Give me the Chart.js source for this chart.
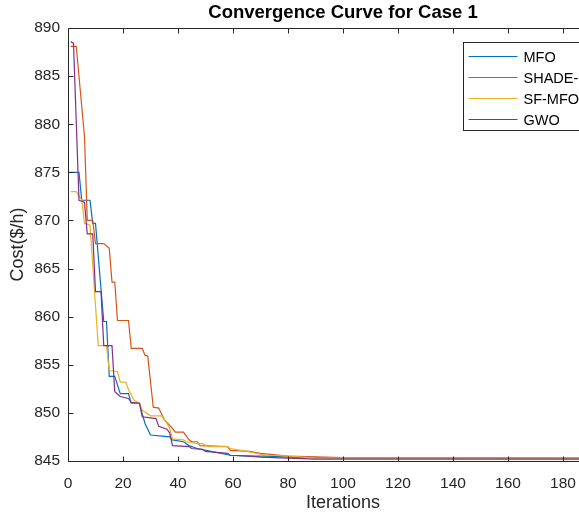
<!DOCTYPE html>
<html>
<head>
<meta charset="utf-8">
<script src="https://cdn.jsdelivr.net/npm/chart.js@4"></script>
<style>
  html, body { margin: 0; padding: 0; background: #fff; overflow: hidden; }
  #wrap { width: 684px; height: 518px; }
</style>
</head>
<body>
<div id="wrap"><canvas id="chart" width="684" height="518"></canvas></div>
<script>
// values (iteration, cost in $/h)
const seriesNames = ['MFO', 'SHADE-MFO', 'SF-MFO', 'GWO'];
const seriesColors = ['#0072BD', '#D95319', '#EDB120', '#7E2F8E'];

const mfoIter = [0, 4, 5, 8, 9, 10, 13, 14, 15, 17, 19, 22, 23, 26, 27, 28, 30, 37, 38, 42, 44, 47, 52, 59, 66, 72, 81, 100, 200];
const mfoCost = [875.0, 875.0, 872.1, 872.1, 869.7, 869.7, 859.5, 859.5, 853.8, 853.8, 852.0, 852.0, 851.0, 851.0, 849.9, 848.9, 847.7, 847.5, 847.2, 847.0, 846.6, 846.3, 846.0, 845.6, 845.5, 845.5, 845.4, 845.3, 845.3];

const shadeIter = [1, 3, 6, 7, 9, 10, 13, 15, 16, 17, 18, 22, 23, 27, 28, 29, 31, 33, 35, 38, 39, 42, 44, 45, 47, 48, 58, 59, 66, 70, 80, 100, 200];
const shadeCost = [888.1, 888.1, 878.7, 870.0, 870.0, 867.6, 867.6, 867.1, 863.6, 863.6, 859.6, 859.6, 856.7, 856.7, 856.0, 855.9, 850.6, 850.5, 849.3, 848.4, 848.0, 848.0, 847.2, 847.0, 847.0, 846.6, 846.5, 846.1, 846.0, 845.8, 845.5, 845.35, 845.3];

const sfIter = [1, 3, 5, 6, 8, 11, 14, 15, 18, 19, 21, 22, 24, 26, 27, 30, 34, 36, 37, 38, 42, 43, 47, 49, 51, 58, 59, 65, 70, 73, 81, 90, 200];
const sfCost = [873.0, 873.0, 872.1, 869.7, 869.5, 857.0, 857.0, 854.4, 854.3, 853.2, 853.2, 852.4, 851.3, 851.0, 850.3, 849.7, 849.7, 848.9, 848.4, 847.3, 847.2, 847.0, 846.8, 846.8, 846.5, 846.5, 846.3, 846.0, 845.7, 845.6, 845.5, 845.3, 845.3];

const gwoIter = [1, 2, 4, 5, 6, 7, 9, 10, 12, 13, 16, 17, 19, 22, 23, 26, 27, 32, 33, 36, 37, 38, 44, 45, 49, 50, 58, 59, 66, 70, 90, 200];
const gwoCost = [888.6, 888.4, 872.1, 872.0, 871.9, 868.6, 868.6, 862.6, 862.6, 857.0, 857.0, 852.2, 851.7, 851.5, 851.1, 851.0, 849.6, 849.4, 848.6, 848.3, 847.9, 846.6, 846.5, 846.3, 846.2, 846.0, 845.8, 845.6, 845.5, 845.4, 845.2, 845.2];

const xTickLabels = [0, 20, 40, 60, 80, 100, 120, 140, 160, 180, 200];
const yTickLabels = [845, 850, 855, 860, 865, 870, 875, 880, 885, 890];

const chartTitle = 'Convergence Curve for Case 1';

const FONT = "'Liberation Sans', Arial, sans-serif";
const INK = '#262626';

function points(xs, ys) {
  return xs.map((x, i) => ({ x: x, y: ys[i] }));
}

const allSeries = [
  points(mfoIter, mfoCost),
  points(shadeIter, shadeCost),
  points(sfIter, sfCost),
  points(gwoIter, gwoCost)
];

// MATLAB-style box, inward ticks, title over the axes and legend
const matlabAxes = {
  id: 'matlabAxes',
  afterDatasetsDraw(chart) {
    const { ctx, chartArea: a, scales } = chart;
    const x = scales.x, y = scales.y;
    ctx.save();
    ctx.strokeStyle = INK;
    ctx.lineWidth = 1;
    ctx.beginPath();
    const L = Math.round(a.left) + 0.5, R = Math.round(a.right) + 0.5;
    const T = Math.round(a.top) + 0.5, B = Math.round(a.bottom) + 0.5;
    ctx.moveTo(L, T); ctx.lineTo(R, T); ctx.lineTo(R, B); ctx.lineTo(L, B); ctx.closePath();
    x.ticks.forEach(t => {
      const px = Math.round(x.getPixelForValue(t.value)) + 0.5;
      ctx.moveTo(px, B); ctx.lineTo(px, B - 5);
      ctx.moveTo(px, T); ctx.lineTo(px, T + 5);
    });
    y.ticks.forEach(t => {
      const py = Math.round(y.getPixelForValue(t.value)) + 0.5;
      ctx.moveTo(L, py); ctx.lineTo(L + 5, py);
      ctx.moveTo(R, py); ctx.lineTo(R - 5, py);
    });
    ctx.stroke();

    // title centred over the axes box
    ctx.fillStyle = '#000';
    ctx.font = 'bold 18.5px ' + FONT;
    ctx.textAlign = 'center';
    ctx.textBaseline = 'middle';
    ctx.fillText(chartTitle, (a.left + a.right) / 2, 13);

    // legend box, top right inside the axes
    ctx.font = '14.5px ' + FONT;
    const left = Math.round(a.left + 395) + 0.5;
    const right = Math.round(a.right - 7) + 0.5;
    const boxW = right - left;
    const top = Math.round(a.top + 13.5) + 0.5;
    const rowH = 21;
    const boxH = 88;
    ctx.fillStyle = '#fff';
    ctx.fillRect(left, top, boxW, boxH);
    ctx.strokeStyle = INK;
    ctx.strokeRect(left, top, boxW, boxH);
    ctx.textBaseline = 'middle';
    ctx.textAlign = 'left';
    chart.data.datasets.forEach((d, i) => {
      const ry = Math.round(top + 13 + i * rowH) + 0.5;
      ctx.strokeStyle = d.borderColor;
      ctx.lineWidth = 1.2;
      ctx.beginPath();
      ctx.moveTo(left + 5, ry); ctx.lineTo(left + 54, ry);
      ctx.stroke();
      ctx.fillStyle = '#000';
      ctx.fillText(d.label, left + 60, ry + 1);
    });
    ctx.restore();
  }
};

const ctx = document.getElementById('chart').getContext('2d');
new Chart(ctx, {
  type: 'line',
  data: {
    datasets: allSeries.map((pts, i) => ({
      label: seriesNames[i],
      data: pts,
      borderColor: seriesColors[i],
      backgroundColor: seriesColors[i],
      borderWidth: 1.2,
      pointRadius: 0,
      tension: 0,
      fill: false,
      order: seriesNames.length - i
    }))
  },
  options: {
    responsive: false,
    animation: false,
    layout: { padding: { left: 0, right: 66, top: 28, bottom: 0 } },
    plugins: {
      legend: { display: false },
      tooltip: { enabled: false },
      title: { display: false }
    },
    scales: {
      x: {
        type: 'linear',
        min: 0,
        max: 200,
        afterBuildTicks: s => { s.ticks = xTickLabels.map(v => ({ value: v })); },
        afterFit: s => { s.height = 57; },
        grid: { display: false, drawTicks: false },
        border: { display: false },
        ticks: { color: INK, padding: 13, maxRotation: 0, font: { family: FONT, size: 15.5 } },
        title: {
          display: true,
          text: 'Iterations',
          color: INK,
          padding: { top: 0, bottom: 4 },
          font: { family: FONT, size: 18 }
        }
      },
      y: {
        type: 'linear',
        min: 845,
        max: 890,
        afterBuildTicks: s => { s.ticks = yTickLabels.map(v => ({ value: v })); },
        afterFit: s => { s.width = 68; },
        grid: { display: false, drawTicks: false },
        border: { display: false },
        ticks: { color: INK, padding: 8, font: { family: FONT, size: 15.5 } },
        title: {
          display: true,
          text: 'Cost($/h)',
          color: INK,
          padding: { top: 7, bottom: 0 },
          font: { family: FONT, size: 18 }
        }
      }
    }
  },
  plugins: [matlabAxes]
});
</script>
</body>
</html>
